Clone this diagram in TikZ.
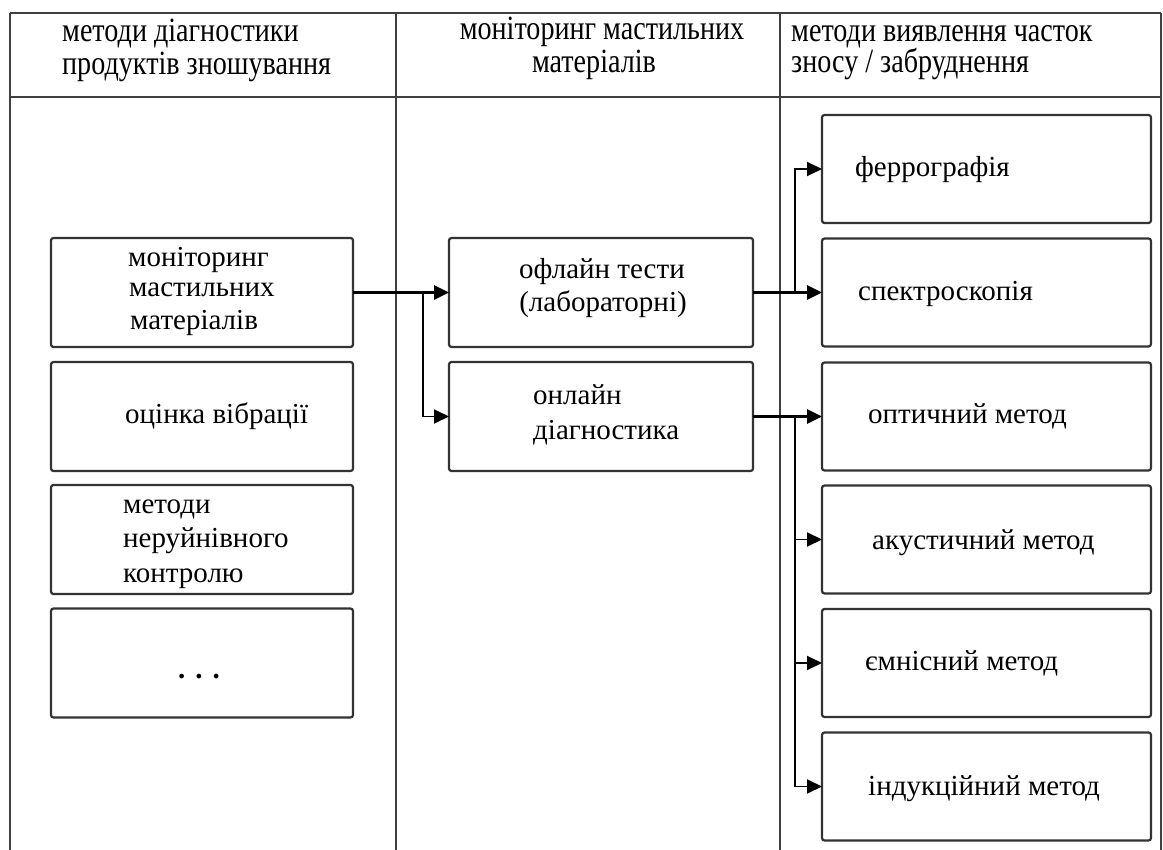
\documentclass[tikz,border=0pt]{standalone}
\usepackage{fontspec}
\usepackage{graphicx}
\setmainfont{Liberation Serif}
\usetikzlibrary{arrows.meta}
\newcommand{\bodyfnt}{\fontsize{29}{32}\selectfont}
\newcommand{\hd}[1]{\scalebox{0.97}[1.17]{#1}}
\tikzset{
  box/.style={draw=black!80, line width=2.2pt, rounded corners=2.5pt, inner sep=0pt, outer sep=0pt},
  lbox/.style={box, minimum width=302pt, minimum height=109pt},
  mbox/.style={box, minimum width=304pt, minimum height=109pt},
  rbox/.style={box, minimum width=329pt, minimum height=108pt},
  lbl/.style={inner sep=0pt, anchor=base west, font=\bodyfnt},
  clbl/.style={inner sep=0pt, anchor=base, font=\bodyfnt},
  tline/.style={draw=black!75, line width=2.6pt},
  conn/.style={line width=2.6pt, -{Triangle[length=15pt,width=14pt]}},
  branch/.style={line width=1.9pt, -{Triangle[length=15pt,width=14pt]}}
}
\begin{document}
\begin{tikzpicture}[x=1pt,y=-1pt]
\useasboundingbox (0,0) rectangle (1163,850);
% table
\draw[tline] (10,13) -- (1161,13);
\draw[tline] (10,97) -- (1161,97);
\draw[tline] (10,13) -- (10,850);
\draw[tline] (396,13) -- (396,850);
\draw[tline] (780,13) -- (780,850);
\draw[tline] (1161,13) -- (1161,850);
% headers
\node[lbl] (h1a) at (62,42) {\hd{методи діагностики}};
\node[lbl] (h1b) at (62,75) {\hd{продуктів зношування}};
\node[clbl] (h2a) at (602,40) {\hd{моніторинг мастильних}};
\node[clbl] (h2b) at (594,73) {\hd{матеріалів}};
\node[lbl] (h3a) at (791,42) {\hd{методи виявлення часток}};
\node[lbl] (h3b) at (791,73) {\hd{зносу / забруднення}};
% left boxes
\node[lbox] (lb1) at (202,292.5) {};
\node[lbox] (lb2) at (202,416.5) {};
\node[lbox] (lb3) at (202,539.5) {};
\node[lbox] (lb4) at (202,663) {};
\node[lbl] (t1a) at (128,267) {моніторинг};
\node[lbl] (t1b) at (129,297) {мастильних};
\node[lbl] (t1c) at (130,330) {матеріалів};
\node[lbl] (t2) at (125,424) {оцінка вібрації};
\node[lbl] (t3a) at (123,513) {методи};
\node[lbl] (t3b) at (123,547) {неруйнівного};
\node[lbl] (t3c) at (123,582) {контролю};
\node[clbl] (t4) at (199,678) {\textbf{.\hspace{10pt}.\hspace{10pt}.}};
% middle boxes
\node[mbox] (mb1) at (601,292.5) {};
\node[mbox] (mb2) at (601,416.5) {};
\node[clbl] (m1a) at (602,279) {офлайн тести};
\node[clbl] (m1b) at (603,312) {(лабораторні)};
\node[lbl] (m2a) at (533,405) {онлайн};
\node[lbl] (m2b) at (533,440) {діагностика};
% right boxes
\node[rbox] (rb1) at (986.5,169) {};
\node[rbox] (rb2) at (986.5,292.5) {};
\node[rbox] (rb3) at (986.5,416.5) {};
\node[rbox] (rb4) at (986.5,539.5) {};
\node[rbox] (rb5) at (986.5,663) {};
\node[rbox] (rb6) at (986.5,786.5) {};
\node[lbl] (r1) at (855,177) {феррографія};
\node[lbl] (r2) at (858,301) {спектроскопія};
\node[lbl] (r3) at (868,424) {оптичний метод};
\node[lbl] (r4) at (872,549) {акустичний метод};
\node[lbl] (r5) at (865,670) {ємнісний метод};
\node[lbl] (r6) at (868,795) {індукційний метод};
% connectors
\coordinate (j1) at (423,292.5);
\coordinate (j2) at (795,292.5);
\coordinate (j3) at (795,416.5);
\draw[conn] (lb1.east) -- (mb1.west);
\draw[branch] (j1) |- (mb2.west);
\draw[conn] (mb1.east) -- (rb2.west);
\draw[branch] (j2) |- (rb1.west);
\draw[conn] (mb2.east) -- (rb3.west);
\draw[branch] (j3) |- (rb4.west);
\draw[branch] (j3) |- (rb5.west);
\draw[branch] (j3) |- (rb6.west);
\end{tikzpicture}
\end{document}
